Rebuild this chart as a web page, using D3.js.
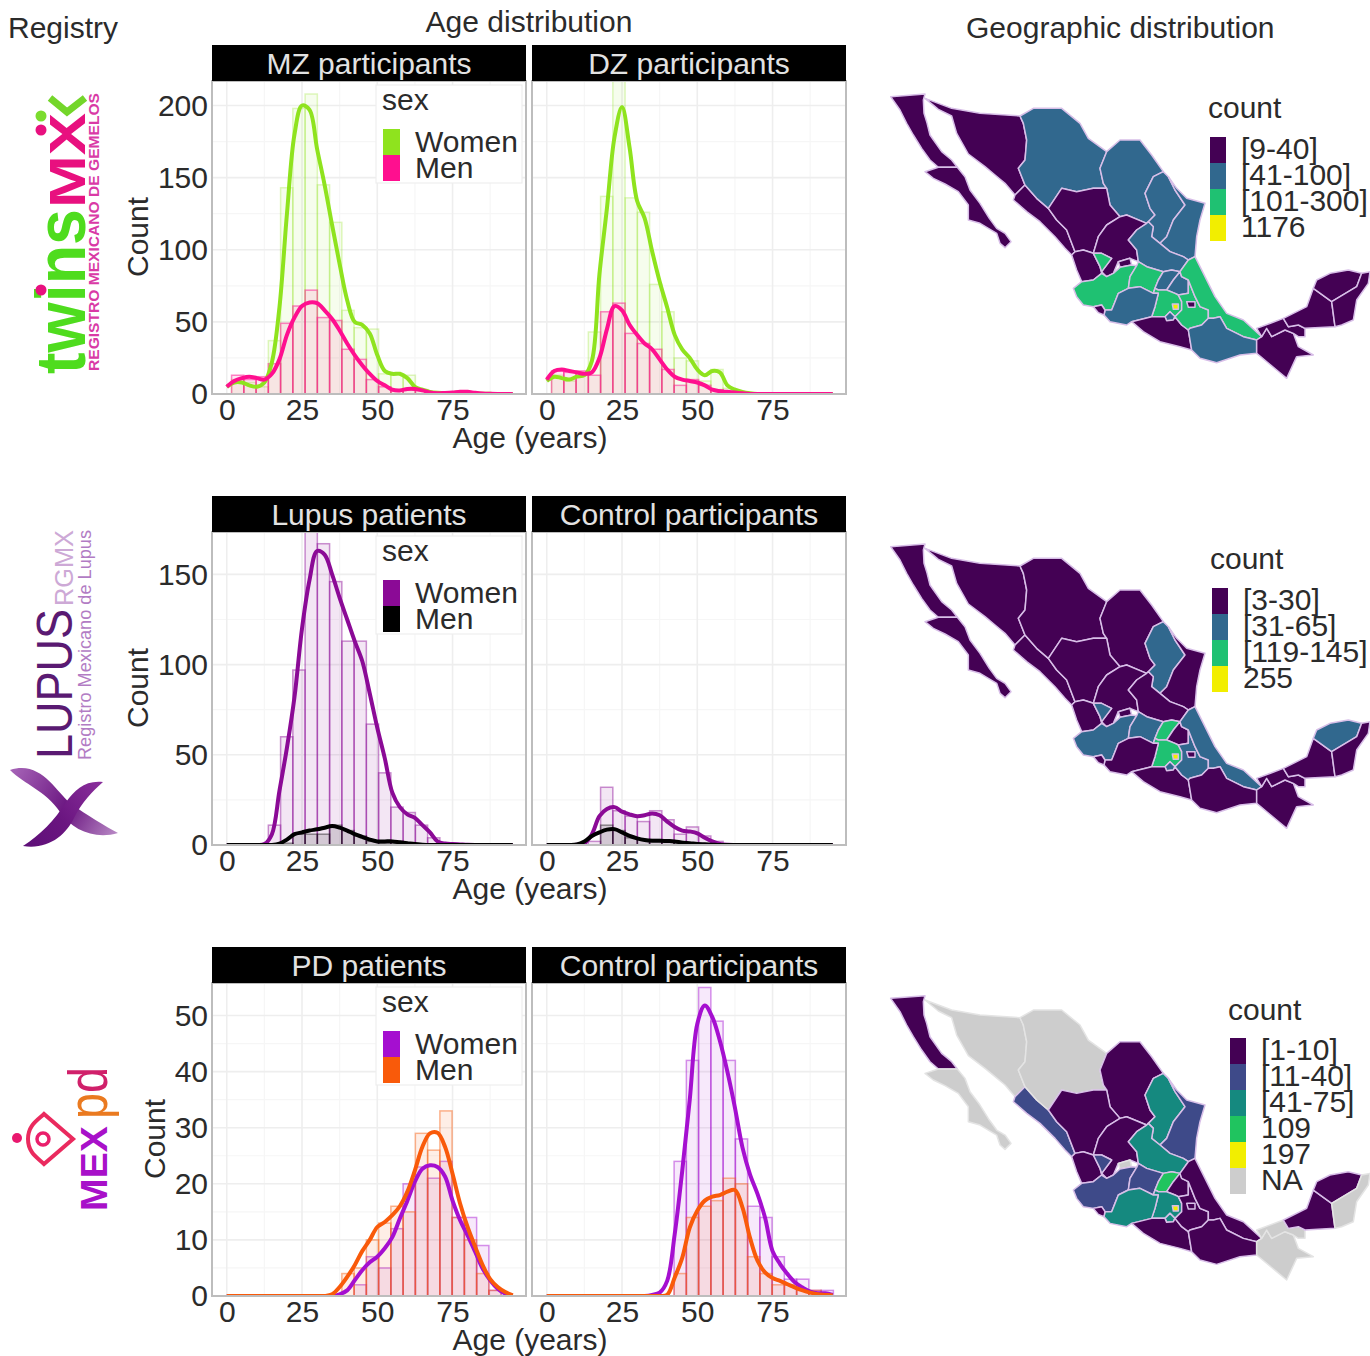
<!DOCTYPE html>
<html>
<head>
<meta charset="utf-8">
<script src="https://cdn.jsdelivr.net/npm/d3@7"></script>
<style>
  body { margin: 0; background: #fff; }
  text { font-family: "Liberation Sans", Arial, sans-serif; }
</style>
</head>
<body>
<svg id="chart" width="1370" height="1356"></svg>
<script>
// density curves are read every 2.5 years
const ages = d3.range(39).map(i => i * 2.5);
const binStart = 1.6;
const binWidth = 4.07;

const mzWomenCurve = [5,8,8,6,5,8,22,60,125,180, 200,197,170,145,117,90,65,50,48,42, 27,16,14,14,11,5,3,1.5,.8,.5, .6,1,.8,.5,.2,.1,0,0,0];
const mzMenCurve = [5,9,11,12,11,10,14,24,41,53, 61,63.5,63,58,52,44,35,27,20,14, 9,6,3,2.5,3.5,3.5,2.5,1,.5,.7, 1,1.5,1.5,.8,.3,.1,0,0,0];
const dzWomenCurve = [9,12,11,10,12,13,23,83,129,178, 199,171,134,122,99,78,60,41,31,25, 17,13,16,15,6,3,1.4,.5,0,0, 0,0,0,0,0,0,0,0,0];
const dzMenCurve = [10,16,17,16,15,14,15,25,45,61, 58,48,41,35,31,24,17,12,10,9, 8,6,3,2,1.5,1,.5,0,0,0, 0,0,0,0,0,0,0,0,0];
const lupusWomenCurve = [0,0,0,0,0,.5,6,30,54,82, 120,147,163,161,150,137,125,113,102,84, 65,48,29,21,17,15,11,7,2,.8, .5,.3,.1,0,0,0,0,0,0];
const lupusMenCurve = [0,0,0,0,0,0,0,.7,3,6, 7,8,8.7,9.6,10.5,9.6,8,6,4.5,3, 2,2,2,1.5,1,.5,.2,0,0,0, 0,0,0,0,0,0,0,0,0];
const lupusCtrlWomenCurve = [0,0,0,0,.2,1,6,16,20,21, 18.5,17,16,16.5,17.5,16.5,13,10,8,7.5, 6.5,4,2,.6,.1,0,0,0,0,0, 0,0,0,0,0,0,0,0,0];
const lupusCtrlMenCurve = [0,0,0,0,.3,2,5,7,8.5,8.8, 7,5,3.7,2.8,2.4,2.4,2.2,2,1.3,1, .6,.4,.2,0,0,0,0,0,0,0, 0,0,0,0,0,0,0,0,0];
const pdWomenCurve = [0,0,0,0,0,0,0,0,0,0, 0,0,0,0,0,.3,1,2.8,4.6,6, 7,8.5,10.5,13.8,17,20.4,22.7,23.3,23,21.3, 17,13.5,10.8,7.9,4.9,2.8,1.3,.4,.1];
const pdMenCurve = [0,0,0,0,0,0,0,0,0,0, 0,0,0,0,.3,1.6,3.4,5.5,8,10, 12.3,13.2,14.4,16,18.6,22.4,26.6,29,29.1,26.6, 21.8,16.5,12.3,8.8,5.5,3,1.6,.7,.1];
const pdCtrlWomenCurve = [0,0,0,0,0,0,0,0,0,0, 0,0,0,0,.2,.6,2.7,11,22.3,35, 48.5,51.8,49.7,45.5,40,33.6,26.5,21.7,18.2,14, 8,5.7,3.9,2.4,1.5,.8,.5,.5,.2];
const pdCtrlMenCurve = [0,0,0,0,0,0,0,0,0,0, 0,0,0,0,0,0,.2,3.3,6.8,12.2, 15.2,17,17.7,18,18.6,18.9,15.8,10.4,6.3,4.2, 3.2,2.7,2.1,1.5,1,.6,.3,.2,.1];

// histogram counts per bin
const mzWomenBars = [10,8,5,37,143,198,208,145,119,58,46,45,14,13,13,3,1,1,1,1,0,0,0,0];
const mzMenBars = [13,10,12,21,49,61,72,53,51,31,24,10,5,2,3,3,1,1,1,1,0,0,0,0];
const dzWomenBars = [13,9,13,43,137,225,136,126,76,57,25,23,9,17,4,1,0,0,0,0,0,0,0,0];
const dzMenBars = [16,15,16,13,57,63,42,35,31,17,6,10,6,3,2,0,0,0,0,0,0,0,0,0];
const lupusWomenBars = [0,0,0,11,60,97,178,167,146,113,113,67,40,21,18,11,4,1,0,0,0,0,0,0];
const lupusMenBars = [0,0,0,0,1,6,6,6,11,8,5,2,1,2,1,0,0,0,0,0,0,0,0,0];
const lupusCtrlWomenBars = [0,0,0,2,32,19,16,13,19,14,6,10,5,2,0,0,0,0,0,0,0,0,0,0];
const lupusCtrlMenBars = [0,0,0,0,11,8,4,3,3,2,2,1,0,0,0,0,0,0,0,0,0,0,0,0];
const pdWomenBars = [0,0,0,0,0,0,0,0,0,0,2,7,5,12,20,23,21,24,14,14,9,1,0,0];
const pdMenBars = [0,0,0,0,0,0,0,0,0,4,5,10,13,16,15,29,26,33,14,10,4,1,0,0];
const pdCtrlWomenBars = [0,0,0,0,0,0,0,0,0,0,24,42,55,49,42,28,16,14,7,3,3,1,1,0];
const pdCtrlMenBars = [0,0,0,0,0,0,0,0,0,0,4,14,16,17,21,20,7,4,2,2,1,1,0,0];

const xTicks = [0, 25, 50, 75];
const twinsTicks = [0, 50, 100, 150, 200];
const lupusTicks = [0, 50, 100, 150];
const pdTicks = [0, 10, 20, 30, 40, 50];

const rows = [
  { top: 81, yMax: 217, ticks: twinsTicks, titleX: 148,
    women: { color: '#8fe31e', fill: 0.08, edge: 0.28 }, men: { color: '#ff0f8f', fill: 0.1, edge: 0.5 },
    panels: [
      { title: 'MZ participants', wb: mzWomenBars, mb: mzMenBars, wc: mzWomenCurve, mc: mzMenCurve },
      { title: 'DZ participants', wb: dzWomenBars, mb: dzMenBars, wc: dzWomenCurve, mc: dzMenCurve }
    ] },
  { top: 532, yMax: 173.5, ticks: lupusTicks, titleX: 148,
    women: { color: '#8b0a96', fill: 0.1, edge: 0.45 }, men: { color: '#000000', fill: 0.13, edge: 0.4 },
    panels: [
      { title: 'Lupus patients', wb: lupusWomenBars, mb: lupusMenBars, wc: lupusWomenCurve, mc: lupusMenCurve },
      { title: 'Control participants', wb: lupusCtrlWomenBars, mb: lupusCtrlMenBars, wc: lupusCtrlWomenCurve, mc: lupusCtrlMenCurve }
    ] },
  { top: 983, yMax: 55.8, ticks: pdTicks, titleX: 165,
    women: { color: '#a50fd0', fill: 0.09, edge: 0.45 }, men: { color: '#f95a0a', fill: 0.1, edge: 0.45 },
    panels: [
      { title: 'PD patients', wb: pdWomenBars, mb: pdMenBars, wc: pdWomenCurve, mc: pdMenCurve },
      { title: 'Control participants', wb: pdCtrlWomenBars, mb: pdCtrlMenBars, wc: pdCtrlWomenCurve, mc: pdCtrlMenCurve }
    ] }
];

// states, in a 1470 x 930 tracing grid
const stateNames = ['BC','BCS','Son','Sin','Chih','Coah','NL','Tam','Dur','Zac','SLP','Ags','Nay','Jal','Gua','Qro','Hgo','Mex','Mor','Mich','Col','Gro','Pue','Ver','Oax','Chis','Tab','Cam','Yuc','QR','Tla','CDMX'];
const stateRings = {
  BC: [[[32,50],[135,42],[130,60],[132,100],[140,125],[150,165],[185,215],[215,240],[232,262],[175,262],[150,240],[125,205],[100,165],[80,130],[60,90]]],
  BCS: [[[135,275],[175,262],[232,262],[255,290],[270,330],[300,370],[328,415],[350,445],[375,460],[393,485],[375,503],[360,490],[350,460],[300,430],[265,420],[265,375],[235,335],[195,312],[160,295]]],
  Son: [[[135,55],[215,85],[300,100],[420,108],[430,130],[440,180],[435,240],[415,265],[435,315],[405,345],[375,310],[345,285],[315,260],[265,222],[230,160],[215,108],[175,88]]],
  Sin: [[[405,345],[435,315],[470,355],[505,385],[530,420],[560,450],[585,515],[575,525],[555,505],[525,470],[480,425],[440,395],[400,360]]],
  Chih: [[[420,108],[460,85],[545,85],[600,130],[625,175],[680,215],[660,265],[670,310],[680,325],[640,325],[590,335],[545,325],[505,385],[470,355],[435,315],[415,265],[435,240],[440,180],[430,130]]],
  Coah: [[[680,215],[720,180],[780,180],[815,225],[850,275],[820,290],[795,340],[810,385],[825,405],[805,425],[800,430],[740,405],[720,410],[690,375],[680,325],[670,310],[660,265]]],
  NL: [[[850,275],[865,290],[885,330],[915,375],[880,420],[860,470],[840,490],[815,470],[820,440],[805,425],[825,405],[810,385],[795,340],[820,290]]],
  Tam: [[[865,290],[890,325],[920,355],[975,370],[960,420],[950,470],[945,530],[925,540],[910,530],[870,515],[840,490],[860,470],[880,420],[915,375],[885,330]]],
  Dur: [[[505,385],[545,325],[590,335],[640,325],[680,325],[690,375],[720,410],[680,435],[655,470],[640,520],[610,510],[585,515],[560,450],[530,420]]],
  Zac: [[[655,470],[680,435],[720,410],[740,405],[800,430],[770,450],[745,480],[770,510],[775,545],[750,535],[715,545],[700,580],[680,590],[665,575],[695,535],[665,520],[640,520]]],
  SLP: [[[800,430],[805,425],[820,440],[815,470],[840,490],[870,515],[910,530],[925,540],[900,575],[875,570],[850,575],[800,560],[775,545],[770,510],[745,480],[770,450]]],
  Ags: [[[715,545],[750,535],[755,555],[720,562]]],
  Nay: [[[585,515],[610,510],[640,520],[660,560],[665,580],[640,600],[605,605],[590,570],[575,525]]],
  Jal: [[[580,625],[605,605],[640,600],[665,580],[680,590],[700,580],[720,562],[755,555],[770,557],[750,590],[745,625],[715,640],[705,665],[695,690],[675,690],[665,675],[640,680],[610,675],[590,650]],
        [[640,520],[665,520],[695,535],[665,575],[660,560]]],
  Gua: [[[770,557],[775,545],[800,560],[850,575],[835,600],[825,625],[820,640],[780,620],[745,625],[750,590]]],
  Qro: [[[850,575],[875,570],[900,575],[880,600],[860,630],[835,630],[825,625],[835,600]]],
  Hgo: [[[900,575],[905,590],[925,600],[925,640],[895,645],[885,640],[860,630],[880,600]]],
  Mex: [[[820,640],[825,625],[835,630],[860,630],[885,640],[895,645],[905,665],[905,690],[885,710],[870,695],[855,710],[815,710],[825,680],[835,640]]],
  Mor: [[[855,710],[870,695],[885,710],[880,720],[860,722]]],
  Mich: [[[675,690],[695,690],[705,665],[715,640],[745,625],[780,620],[820,640],[835,640],[825,680],[815,710],[755,725],[740,735],[690,725],[672,705]]],
  Col: [[[640,680],[665,675],[675,690],[672,705],[655,698]]],
  Gro: [[[755,725],[815,710],[855,710],[860,722],[880,720],[885,710],[905,735],[925,750],[935,810],[900,800],[840,785],[790,755]]],
  Pue: [[[925,600],[945,650],[960,680],[985,690],[985,715],[965,735],[930,745],[925,750],[905,735],[885,710],[905,690],[905,665],[895,645],[925,640]]],
  Ver: [[[925,540],[945,530],[975,590],[1005,650],[1040,700],[1090,720],[1145,770],[1130,780],[1090,770],[1040,745],[1020,710],[1000,715],[985,715],[985,690],[960,680],[945,650],[925,600],[905,590],[900,575]]],
  Oax: [[[930,745],[965,735],[985,715],[1000,715],[1020,710],[1040,745],[1090,770],[1130,780],[1130,820],[1080,825],[1010,848],[960,835],[935,810],[925,750]]],
  Chis: [[[1130,780],[1145,770],[1160,745],[1175,770],[1215,750],[1240,760],[1255,800],[1300,825],[1250,830],[1220,895],[1190,870],[1130,820]]],
  Tab: [[[1130,745],[1210,715],[1225,740],[1255,735],[1275,745],[1275,770],[1255,770],[1240,760],[1215,750],[1175,770],[1160,745],[1145,770]]],
  Cam: [[[1210,715],[1280,680],[1300,625],[1355,665],[1365,740],[1275,745],[1255,735],[1225,740]]],
  Yuc: [[[1300,625],[1310,600],[1350,580],[1405,570],[1445,580],[1430,620],[1380,650],[1355,665]]],
  QR: [[[1445,580],[1470,575],[1465,610],[1430,660],[1420,720],[1385,735],[1365,740],[1355,665],[1380,650],[1430,620]]],
  Tla: [[[920,665],[945,665],[945,682],[925,682]]],
  CDMX: [[[877,672],[895,672],[895,688],[880,688]]]
};

// class of each state (same order as stateNames), index into the legend of that map, -1 = NA
const twinsClasses = [0,0,0,0,1,1,1,1,0,0,1,0,0,2,2,1,1,2,1,1,0,0,2,2,1,0,0,0,0,0,0,3];
const lupusClasses = [0,0,0,0,0,0,1,0,0,0,0,0,0,1,1,2,0,2,1,0,0,0,1,1,0,0,0,0,1,0,0,3];
const pdClasses = [0,-1,-1,1,-1,0,2,1,0,0,2,-1,0,1,1,3,0,2,2,2,0,0,0,0,0,-1,-1,0,0,-1,0,4];

const twinsLabels = ['[9-40]', '[41-100]', '[101-300]', '1176'];
const lupusLabels = ['[3-30]', '[31-65]', '[119-145]', '255'];
const pdLabels = ['[1-10]', '[11-40]', '[41-75]', '109', '197', 'NA'];
const twinsColors = ['#440154', '#31688e', '#1fc172', '#f2ee00'];
const lupusColors = ['#440154', '#31688e', '#1fc172', '#f2ee00'];
const pdColors = ['#440154', '#3e4a89', '#15897f', '#20c45f', '#f2ee00', '#cdcdcd'];

const maps = [
  { top: 80, classes: twinsClasses, labels: twinsLabels, colors: twinsColors, legendX: 1210, titleY: 118, keyTop: 137 },
  { top: 530, classes: lupusClasses, labels: lupusLabels, colors: lupusColors, legendX: 1212, titleY: 569, keyTop: 588 },
  { top: 981.7, classes: pdClasses, labels: pdLabels, colors: pdColors, legendX: 1230, titleY: 1020, keyTop: 1038 }
];

const svg = d3.select('#chart');
svg.append('rect').attr('width', 1370).attr('height', 1356).attr('fill', '#fff');

const inkColor = '#2b2b2b';
const fontSize = 30;

function label(g, x, y, str, anchor = 'start', fill = inkColor, size = fontSize) {
  return g.append('text')
    .attr('x', x).attr('y', y)
    .attr('text-anchor', anchor)
    .attr('fill', fill)
    .attr('font-size', size)
    .text(str);
}

label(svg, 8, 38, 'Registry');
label(svg, 529, 32, 'Age distribution', 'middle');
label(svg, 966, 38, 'Geographic distribution');

const panelW = 314;
const panelH = 313;
const panelLefts = [212, 532];
const defs = svg.append('defs');

rows.forEach((row, r) => {
  const y = d3.scaleLinear().domain([0, row.yMax]).range([row.top + panelH, row.top]);
  const minorY = row.ticks.slice(0, -1).map((t, i) => (t + row.ticks[i + 1]) / 2);

  row.panels.forEach((p, c) => {
    const left = panelLefts[c];
    const x = d3.scaleLinear().domain([-4.9, 99.4]).range([left, left + panelW]);
    const g = svg.append('g');
    const clipId = `clip-${r}-${c}`;
    defs.append('clipPath').attr('id', clipId)
      .append('rect').attr('x', left).attr('y', row.top).attr('width', panelW).attr('height', panelH);

    // grid
    const grid = g.append('g');
    grid.selectAll('.minor-x').data([12.5, 37.5, 62.5, 87.5]).enter().append('line')
      .attr('x1', d => x(d)).attr('x2', d => x(d)).attr('y1', row.top).attr('y2', row.top + panelH)
      .attr('stroke', '#f6f6f6').attr('stroke-width', 1.2);
    grid.selectAll('.minor-y').data(minorY).enter().append('line')
      .attr('x1', left).attr('x2', left + panelW).attr('y1', d => y(d)).attr('y2', d => y(d))
      .attr('stroke', '#f6f6f6').attr('stroke-width', 1.2);
    grid.selectAll('.major-x').data(xTicks).enter().append('line')
      .attr('x1', d => x(d)).attr('x2', d => x(d)).attr('y1', row.top).attr('y2', row.top + panelH)
      .attr('stroke', '#eeeeee').attr('stroke-width', 1.6);
    grid.selectAll('.major-y').data(row.ticks).enter().append('line')
      .attr('x1', left).attr('x2', left + panelW).attr('y1', d => y(d)).attr('y2', d => y(d))
      .attr('stroke', '#eeeeee').attr('stroke-width', 1.6);

    // histograms and density curves
    const marks = g.append('g').attr('clip-path', `url(#${clipId})`);
    const line = d3.line().x(d => x(d[0])).y(d => y(d[1])).curve(d3.curveCatmullRom.alpha(0.5));

    [[p.wb, row.women], [p.mb, row.men]].forEach(([bars, style]) => {
      const kept = bars.map((v, k) => ({ v, k })).filter(d => d.v > 0);
      marks.append('g').selectAll('rect').data(kept).enter().append('rect')
        .attr('x', d => x(binStart + binWidth * d.k))
        .attr('width', x(binWidth) - x(0))
        .attr('y', d => y(d.v))
        .attr('height', d => y(0) - y(d.v))
        .attr('fill', style.color).attr('fill-opacity', style.fill)
        .attr('stroke', style.color).attr('stroke-opacity', style.edge).attr('stroke-width', 1.5);
    });
    [[p.wc, row.women], [p.mc, row.men]].forEach(([vals, style]) => {
      marks.append('path')
        .datum(ages.map((a, i) => [a, vals[i]]))
        .attr('d', line)
        .attr('fill', 'none')
        .attr('stroke', style.color)
        .attr('stroke-width', 4)
        .attr('stroke-linejoin', 'round');
    });

    // panel border
    g.append('rect').attr('x', left).attr('y', row.top).attr('width', panelW).attr('height', panelH)
      .attr('fill', 'none').attr('stroke', '#bdbdbd').attr('stroke-width', 2);

    // strip
    g.append('rect').attr('x', left).attr('y', row.top - 36).attr('width', panelW).attr('height', 36)
      .attr('fill', '#000');
    label(g, left + panelW / 2, row.top - 7, p.title, 'middle', '#e2e2e2');

    // x axis
    const xAxis = g.append('g')
      .attr('transform', `translate(0,${row.top + panelH})`)
      .call(d3.axisBottom(x).tickValues(xTicks).tickSize(0).tickPadding(5));
    xAxis.select('.domain').remove();
    xAxis.selectAll('text').attr('font-size', fontSize).attr('fill', inkColor);

    // y axis, legend only on the left panel
    if (c === 0) {
      const yAxis = g.append('g')
        .attr('transform', `translate(${left},0)`)
        .call(d3.axisLeft(y).tickValues(row.ticks).tickSize(0).tickPadding(4));
      yAxis.select('.domain').remove();
      yAxis.selectAll('text').attr('font-size', fontSize).attr('fill', inkColor);

      g.append('text')
        .attr('transform', `translate(${row.titleX},${row.top + 156}) rotate(-90)`)
        .attr('text-anchor', 'middle').attr('font-size', fontSize).attr('fill', inkColor)
        .text('Count');

      const lg = g.append('g');
      lg.append('rect').attr('x', 376).attr('y', row.top + 4).attr('width', 146).attr('height', 98)
        .attr('fill', '#fff').attr('stroke', '#eeeeee').attr('stroke-width', 1.2);
      label(lg, 382, row.top + 29, 'sex');
      [['Women', row.women.color], ['Men', row.men.color]].forEach(([name, color], i) => {
        lg.append('rect').attr('x', 383).attr('y', row.top + 48 + i * 26).attr('width', 17).attr('height', 26)
          .attr('fill', color);
        label(lg, 415, row.top + 71 + i * 26, name);
      });
    }
  });

  label(svg, 530, row.top + 367, 'Age (years)', 'middle');
});

// maps
const mapLine = d3.line();
maps.forEach(m => {
  const mx = d3.scaleLinear().domain([0, 1470]).range([880, 1370]);
  const my = d3.scaleLinear().domain([0, 930]).range([m.top, m.top + 310]);
  const g = svg.append('g');
  const ring = pts => mapLine(pts.map(q => [mx(q[0]), my(q[1])])) + 'Z';

  g.selectAll('path.state').data(stateNames).enter().append('path')
    .attr('class', 'state')
    .attr('d', d => stateRings[d].map(ring).join(''))
    .attr('fill', (d, i) => m.classes[i] < 0 ? '#cdcdcd' : m.colors[m.classes[i]])
    .attr('stroke', (d, i) => m.classes[i] < 0 ? '#e4e4e4' : '#d8bfe8')
    .attr('stroke-width', 1.5)
    .attr('stroke-linejoin', 'round');

  label(g, m.legendX - 2, m.titleY, 'count');
  g.selectAll('rect.key').data(m.labels).enter().append('rect')
    .attr('class', 'key')
    .attr('x', m.legendX).attr('y', (d, i) => m.keyTop + i * 26)
    .attr('width', 16).attr('height', 26)
    .attr('fill', (d, i) => m.colors[i]);
  m.labels.forEach((t, i) => label(g, m.legendX + 31, m.keyTop + i * 26 + 22, t));
});

// registry logos
const logos = svg.append('g');
function upText(x, y, str, size, fill, length, weight = 'normal') {
  return logos.append('text')
    .attr('transform', `translate(${x},${y}) rotate(-90)`)
    .attr('font-size', size).attr('fill', fill).attr('font-weight', weight)
    .attr('textLength', length).attr('lengthAdjust', 'spacingAndGlyphs')
    .text(str);
}

upText(85, 374, 'twins', 70, '#4fdc1e', 165, 'bold');
upText(85, 208, 'MX', 50, '#e8107f', 95, 'bold');
logos.append('path').attr('d', 'M50,98 L67,112 L85,98').attr('fill', 'none')
  .attr('stroke', '#74d62a').attr('stroke-width', 7);
logos.selectAll('circle.tw').data([[41, 290, '#e8107f'], [41, 130, '#e8107f'], [41, 116, '#7bdc2e']]).enter()
  .append('circle').attr('class', 'tw')
  .attr('cx', d => d[0]).attr('cy', d => d[1]).attr('r', 5.5).attr('fill', d => d[2]);
upText(99, 371, 'REGISTRO MEXICANO DE GEMELOS', 14, '#d93aa6', 278, 'bold');

upText(72, 759, 'LUPUS', 50, '#5a1a72', 150);
upText(73, 606, 'RGMX', 25, '#cda9d6', 76);
upText(91, 760, 'Registro Mexicano de Lupus', 18, '#b27cc4', 230);

const petalGrad = (id, x1, y1, x2, y2, from, to) => {
  const lg = defs.append('linearGradient').attr('id', id).attr('gradientUnits', 'userSpaceOnUse')
    .attr('x1', x1).attr('y1', y1).attr('x2', x2).attr('y2', y2);
  lg.append('stop').attr('offset', 0).attr('stop-color', from);
  lg.append('stop').attr('offset', 0.55).attr('stop-color', '#6a1580');
  lg.append('stop').attr('offset', 1).attr('stop-color', to);
};
petalGrad('petal-a', 10, 770, 118, 833, '#a765b8', '#b98ac6');
petalGrad('petal-b', 103, 782, 23, 846, '#8a2f9c', '#5e0f78');
logos.append('path').attr('d', 'M10,770 C40,760 55,790 70,803 C88,816 105,826 118,833 C95,840 72,830 60,812 C45,790 25,785 10,770Z')
  .attr('fill', 'url(#petal-a)');
logos.append('path').attr('d', 'M103,782 C85,780 75,790 66,802 C55,820 40,835 23,846 C48,850 66,835 74,818 C82,802 92,792 103,782Z')
  .attr('fill', 'url(#petal-b)');

upText(107, 1211, 'MEX', 37, '#a811c9', 85, 'bold');
const pd = upText(107, 1119, '', 56, '#e0483a', 52);
pd.append('tspan').attr('fill', '#ea7a20').text('p');
pd.append('tspan').attr('fill', '#d0206a').text('d');
logos.append('circle').attr('cx', 17).attr('cy', 1138).attr('r', 5).attr('fill', '#e9186e');
logos.append('path').attr('d', 'M28,1139 C28,1125 38,1120 44,1114 L73,1139 L44,1164 C38,1158 28,1153 28,1139Z')
  .attr('fill', 'none').attr('stroke', '#ea2a5e').attr('stroke-width', 4);
logos.append('circle').attr('cx', 43).attr('cy', 1139).attr('r', 6).attr('fill', 'none')
  .attr('stroke', '#ea1f6c').attr('stroke-width', 3.5);
</script>
</body>
</html>
